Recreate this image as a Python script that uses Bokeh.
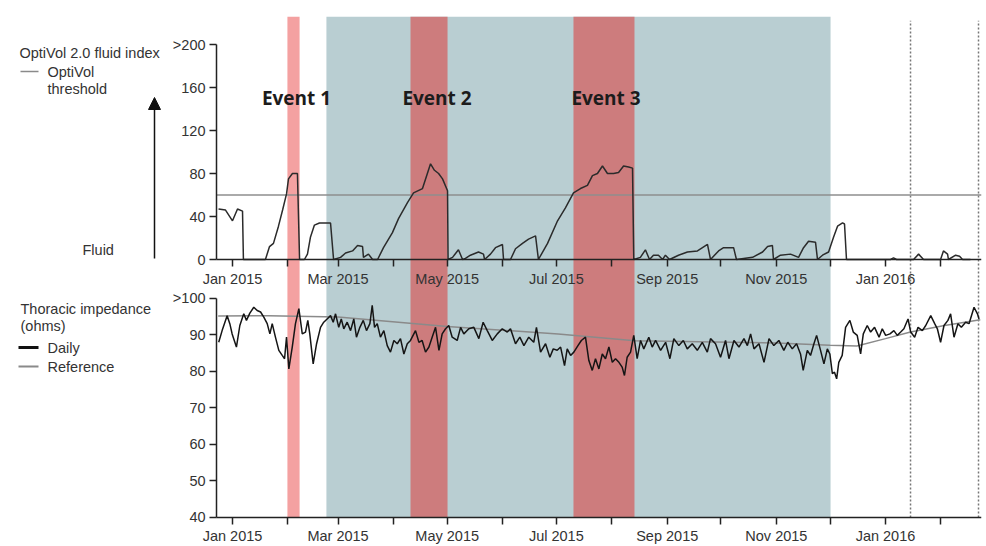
import pandas as pd
from bokeh.plotting import figure
from bokeh.models import (Range1d, LinearAxis, FixedTicker, BoxAnnotation,
                          Label, Arrow, NormalHead)
from bokeh.embed import file_html
from bokeh.resources import INLINE

# ---- data: x values are days since 1 Jan 2015 ----
START = pd.Timestamp("2015-01-01")

fluid_day = [-7.8, -3.9, 0, 2.8, 5.6, 6.1, 18.4, 20.7, 22.9, 25.7, 28, 30.2, 31.3, 33.5, 36.3,
             37.5, 40.2, 41.9, 43.6, 45.8, 48.6, 54.8, 56.5, 60.4, 63.2, 67.1, 69.9, 72.7, 73.2,
             76, 78.3, 81.1, 84.4, 89.4, 92.8, 97.8, 101.2, 106.2, 110.7, 112.9, 115.2, 117.4,
             120.2, 120.5, 123, 126.3, 128.6, 130.2, 133, 137.5, 140.3, 140.9, 144.2, 147,
             150.9, 151.5, 155.4, 158.2, 162.1, 165.5, 169.4, 171, 176.1, 181.7, 186.1, 190.6,
             194.5, 198.4, 201.2, 204, 206.8, 209.6, 213, 215.8, 218.6, 221.4, 223.6, 224.3,
             228, 230.8, 233.1, 235.3, 238.1, 240.4, 242, 244.3, 249.3, 254.3, 259.9, 265.5,
             267.2, 271.7, 274.5, 280.1, 281.7, 290.7, 296.3, 299.1, 301.8, 302.4, 306.3,
             311.9, 316.4, 319.2, 322, 325.9, 327, 329.8, 333.2, 336, 338.2, 341, 342.1, 343.2,
             367.8, 369.5, 371.2, 380.7, 383.5, 386.3, 395.8, 397.4, 399.7, 400.2, 404.2,
             406.4, 408.1, 412.5]
fluid_index = [47, 46, 36, 47, 45, 0, 0, 12, 15, 31, 46, 61, 75, 80, 80,
               0, 0, 5, 21, 32, 34, 34, 0, 2, 6, 8, 13, 12, 2,
               5, 0, 0, 11, 25, 38, 53, 62, 66, 89, 83, 80, 75,
               64, 0, 2, 9, 0, 1, 4, 7, 5, 0, 5, 11,
               14, 0, 0, 10, 15, 19, 22, 0, 15, 36, 48, 62,
               66, 69, 78, 80, 87, 80, 80, 81, 87, 86, 85, 0,
               2, 9, 0, 4, 4, 0, 4, 0, 4, 7, 8, 14,
               0, 8, 11, 11, 0, 2, 7, 12, 13, 0, 4,
               5, 2, 11, 17, 16, 0, 4, 7, 21, 31, 34, 33, 0,
               0, 1.5, 0, 0, 5, 0, 0, 8, 5, 0, 4,
               3, 0, 0]

imp_day = [-7.7, -5.8, -3, -1.5, -0.2, 2.2, 4.1, 6.3, 7.8, 9.7, 11.9, 13.8, 15.7, 17.5, 19.4,
           20.9, 22.2, 24, 25.9, 27.8, 29.1, 30.2, 31.5, 33.4, 35.2, 37.1, 39, 40.8, 42.1, 43.2,
           45.1, 47, 49.2, 51, 52.9, 54.8, 56.3, 57.6, 59.4, 60.8, 62.2, 64.1, 66, 67.8, 69.3,
           71.2, 73.1, 74.9, 76.8, 78.1, 79.4, 80.9, 82.7, 84.6, 86.5, 88.3, 90.2, 92.1, 93.9,
           95.8, 97.7, 99.5, 102.3, 104.2, 106, 107.9, 109.8, 111.6, 113.5, 115.4, 117.2, 119.1,
           120.9, 122.8, 125.6, 127.5, 129.3, 132.1, 134.9, 137.7, 140.1, 142.4, 145.2, 148,
           150.8, 153.6, 155.4, 158.2, 160.6, 162.9, 165.6, 168.4, 169.9, 172.2, 175, 177.4,
           179.3, 181.5, 183.4, 185.6, 187.1, 189, 190.8, 193.1, 195, 197.3, 199.2, 201.1,
           202.9, 204.8, 206.7, 208.5, 210.4, 212.3, 214.1, 216, 217.8, 219.1, 220.6, 222.5,
           224.3, 226.2, 228.1, 229.9, 232.7, 234.6, 236.5, 239.3, 242.1, 244.5, 246.7, 249.5,
           252, 254.2, 257, 259.8, 262.6, 265.4, 267.2, 270, 272.8, 275.6, 277.5, 280.3, 283.1,
           285.9, 287.8, 289.6, 291.5, 294.3, 297.1, 299.9, 302.6, 305.4, 308.2, 310.4, 312.9,
           315.3, 317.5, 319, 321.3, 323.1, 325, 326.5, 328.7, 330.6, 332.5, 333.9, 335.3,
           336.5, 337.7, 338.9, 340.8, 342.7, 345.1, 347, 349.2, 351.1, 352.6, 354.8, 356.7,
           358.9, 361.4, 363.2, 365.1, 367.5, 369.7, 371.6, 373.5, 375.3, 377.6, 379.1, 381.3,
           383.2, 385.6, 387.5, 390.3, 392.5, 394, 395.8, 397.7, 399.9, 401.4, 403.3, 405.5,
           407.4, 409.8, 411.7, 414.5, 416.4, 417.3]
imp_daily = [88.0, 91.2, 95.3, 93.1, 90.3, 86.7, 92.6, 95.8, 94, 96, 97.6, 96.7, 96.3, 94.9, 93.1,
             90.3, 93.1, 89.4, 85.8, 84.4, 83.5, 89.4, 80.7, 86.7, 93.1, 97.2, 90.3, 90.8, 94, 90.3,
             82.1, 87.6, 92.1, 93.5, 94.4, 95.3, 93.5, 95.8, 92.1, 94.4, 91.7, 93.5, 91.2, 94.4, 89.4,
             92.1, 94, 91.2, 93.1, 98.1, 92.1, 93.1, 89.4, 91.2, 87.1, 85.3, 88.5, 87.6, 89,
             84.8, 87.6, 88.5, 91.2, 88, 88.5, 85.3, 86.7, 89.4, 92.1, 85.8, 90.3, 91.7,
             92.6, 89.4, 88.5, 92.1, 90.3, 91.7, 92.1, 89, 93.5, 91.2, 88.5, 90.3,
             91.7, 90.8, 91.7, 87.6, 89.4, 87.1, 89.4, 88, 92.1, 85.3, 87.6, 83.9,
             86.2, 85.8, 86.7, 81.6, 86.2, 84.4, 85.3, 87.1, 88.5, 89.4, 83, 80.3,
             83.5, 80.7, 84.8, 83.5, 86.7, 82.5, 83.5, 82.5, 81.2, 78.9, 83.9, 85.3,
             89.9, 83.5, 88.5, 86.2, 89.4, 86.7, 88.5, 85.8, 88, 83.5, 89, 87.1,
             88.5, 86.2, 87.6, 85.8, 88, 85.3, 89, 87.6, 83.9, 88.5, 83.5, 88.5, 86.7,
             89, 87.1, 90.3, 86.2, 87.6, 82.5, 89, 87.1, 88.5, 85.8, 88, 86.2,
             87.6, 84.8, 80.3, 85.8, 84.4, 87.6, 89.9, 85.8, 82.1, 86.2, 84.8, 79.4,
             79.8, 78, 82.5, 84.4, 92.1, 94, 90.8, 89.9, 84.8, 90.3, 92.6, 90.8,
             92.1, 89.4, 91.7, 89.9, 90.3, 91.2, 89.9, 90.8, 91.7, 94.4, 90.8, 89.4,
             92.1, 91.2, 92.6, 95.3, 93.1, 91.7, 88, 92.6, 94, 95.8, 89.4, 93.1,
             92.1, 93.5, 93.1, 97.6, 95.8, 94.4]

ref_day = [-8, 20, 59, 120, 182, 225, 270, 304, 334, 349, 365, 379, 398, 418]
ref_impedance = [95.2, 95.3, 94.9, 92.3, 90.3, 88.4, 88.1, 87.8, 87.2, 87.0, 89.0, 90.8, 92.6, 94.2]

optivol_threshold = 60

event_names = ["Event 1", "Event 2", "Event 3"]
event_start = [30.7, 99.5, 190.6]
event_end = [37.5, 120.2, 224.7]
window_start, window_end = 52.5, 334.3
marker_days = [379, 417]

fluid_ticks = [0, 40, 80, 120, 160, 200]
imp_ticks = [40, 50, 60, 70, 80, 90, 100]

months = pd.date_range("2015-01-01", "2016-02-01", freq="MS")
month_ticks = [int((m - START).days) for m in months]
month_labels = {int((m - START).days): (m.strftime("%b %Y") if m.month % 2 == 1 else "")
                for m in months}

# ---- figure ----
X0, X1 = -8.94, 418.67          # extent of the plotted time axis
Y_BOTTOM = -240.0               # lower panel floor (impedance 40) in fluid-index units
Y_TOP = 222.0
FONT = "Liberation Sans"
TXT = "#333333"

p = figure(width=986, height=546, output_backend="svg", toolbar_location=None,
           x_range=Range1d(-129.68, X1), y_range=Range1d(-266.98, 226.05),
           x_axis_location=None, y_axis_location=None,
           min_border_left=0, min_border_right=5, min_border_top=16, min_border_bottom=0,
           background_fill_color="white", border_fill_color="white", outline_line_color=None)
p.grid.visible = False
p.extra_y_ranges = {"imp": Range1d(32.05, 177.26)}
# screen-like ranges for the side legend
p.extra_x_ranges = {"px": Range1d(0, 981)}
p.extra_y_ranges["pxy"] = Range1d(546, 16)

# shaded periods
p.add_layout(BoxAnnotation(left=window_start, right=window_end, bottom=Y_BOTTOM,
                           fill_color="#b9ced2", fill_alpha=1, line_color=None, level="underlay"))
event_fill = ["#f4a1a1", "#cd7c7d", "#cd7c7d"]
for s, e, c in zip(event_start, event_end, event_fill):
    p.add_layout(BoxAnnotation(left=s, right=e, bottom=Y_BOTTOM, fill_color=c, fill_alpha=1,
                               line_color=None, level="underlay"))
p.segment(x0=marker_days, y0=[Y_BOTTOM] * len(marker_days), x1=marker_days,
          y1=[Y_TOP] * len(marker_days), line_color="#777777", line_dash="2 2", line_width=1.5)

# threshold
p.line([X0, X1], [optivol_threshold, optivol_threshold], line_color="#8e8e8e", line_width=1.3)

# series
p.line(fluid_day, fluid_index, line_color="#2b2b2b", line_width=1.5)
p.line(ref_day, ref_impedance, y_range_name="imp", line_color="#8a8a8a", line_width=1.5)
p.line(imp_day, imp_daily, y_range_name="imp", line_color="#151515", line_width=1.5)


def style(ax):
    ax.axis_line_color = "#222222"
    ax.axis_line_width = 1.5
    ax.major_tick_line_color = "#222222"
    ax.major_tick_line_width = 1.5
    ax.major_tick_out = 7
    ax.major_tick_in = 0
    ax.minor_tick_line_color = None
    ax.major_label_text_font = FONT
    ax.major_label_text_font_size = "14.5px"
    ax.major_label_text_color = TXT
    ax.major_label_standoff = 4


y_fluid = LinearAxis(ticker=FixedTicker(ticks=fluid_ticks), bounds=(0, 200),
                     fixed_location=X0, major_label_overrides={200: ">200"})
y_imp = LinearAxis(y_range_name="imp", ticker=FixedTicker(ticks=imp_ticks), bounds=(40, 100),
                   fixed_location=X0, major_label_overrides={100: ">100"})
x_mid = LinearAxis(ticker=FixedTicker(ticks=month_ticks), major_label_overrides=month_labels,
                   bounds=(X0, X1), fixed_location=0)
x_bot = LinearAxis(ticker=FixedTicker(ticks=month_ticks), major_label_overrides=month_labels,
                   bounds=(X0, X1), fixed_location=Y_BOTTOM)
for ax in (y_fluid, y_imp, x_mid, x_bot):
    style(ax)
p.add_layout(y_fluid, "left")
p.add_layout(y_imp, "left")
p.add_layout(x_mid, "below")
p.add_layout(x_bot, "below")

# event labels
for name, s, e, dx in zip(event_names, event_start, event_end, [3, 8, 2]):
    p.add_layout(Label(x=(s + e) / 2, y=150, text=name, text_align="center",
                       text_baseline="middle", text_font="Open Sans", text_font_style="bold",
                       text_font_size="19px", text_color="#1c1c1c", x_offset=dx))


# side legend
def side_text(x, y, t):
    p.add_layout(Label(x=x, y=y, text=t, x_range_name="px", y_range_name="pxy",
                       text_align="left", text_baseline="middle", text_font=FONT,
                       text_font_size="14.5px", text_color=TXT))


side_text(19, 52, "OptiVol 2.0 fluid index")
side_text(47, 71, "OptiVol")
side_text(47, 88, "threshold")
side_text(82, 249, "Fluid")
side_text(20, 308, "Thoracic impedance")
side_text(20, 325, "(ohms)")
side_text(47, 347, "Daily")
side_text(47, 366, "Reference")
p.line([20, 38], [71, 71], x_range_name="px", y_range_name="pxy", line_color="#8a8a8a", line_width=1.5)
p.line([18, 38], [347, 347], x_range_name="px", y_range_name="pxy", line_color="#111111", line_width=3)
p.line([18, 38], [366, 366], x_range_name="px", y_range_name="pxy", line_color="#8a8a8a", line_width=2)
p.add_layout(Arrow(end=NormalHead(size=12, fill_color="#111111", line_color="#111111"),
                   x_start=154, y_start=258, x_end=154, y_end=97, x_range_name="px",
                   y_range_name="pxy", line_color="#111111", line_width=1.5))

open("out.html", "w").write(file_html(p, INLINE))
